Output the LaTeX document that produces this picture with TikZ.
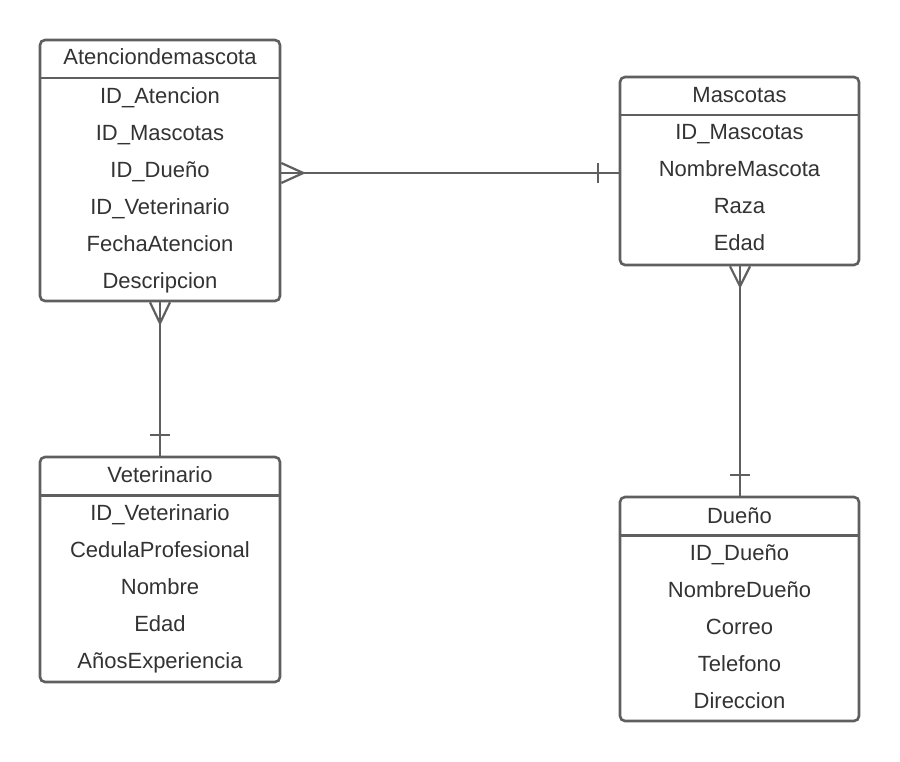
\documentclass[tikz,border=0pt]{standalone}
\usepackage{fontspec}
\setmainfont{Liberation Sans}
\definecolor{boxgray}{HTML}{5F5F5F}
\definecolor{txtgray}{HTML}{333333}
\tikzset{
  tbl/.style={draw=boxgray, line width=2.6pt, rounded corners=5pt, fill=white, inner sep=0pt},
  sepline/.style={draw=boxgray, line width=2.6pt},
  conn/.style={draw=boxgray, line width=2.2pt},
  txt/.style={font=\fontsize{22}{25}\selectfont, text=txtgray, anchor=base, inner sep=0pt}
}
\begin{document}
\begin{tikzpicture}[x=1pt,y=-1pt]
\useasboundingbox (0,0) rectangle (900,762);

% tables
\node[tbl, minimum width=240, minimum height=261] (aten) at (160,170.5) {};
\node[tbl, minimum width=239, minimum height=188] (masc) at (739.5,171) {};
\node[tbl, minimum width=240, minimum height=225] (vet) at (160,569.5) {};
\node[tbl, minimum width=239, minimum height=224] (duen) at (739.5,609) {};

\foreach \t in {aten,masc,vet,duen}
  \draw[sepline] ([yshift=-39.5pt]\t.north west) -- ([yshift=-39.5pt]\t.north east);

% texts
\node[txt] (aten-t) at (160,65) {Atenciondemascota};
\node[txt] (aten-1) at (160,104) {ID\_Atencion};
\node[txt] (aten-2) at (160,141) {ID\_Mascotas};
\node[txt] (aten-3) at (160,178) {ID\_Dueño};
\node[txt] (aten-4) at (160,215) {ID\_Veterinario};
\node[txt] (aten-5) at (160,252) {FechaAtencion};
\node[txt] (aten-6) at (160,289) {Descripcion};

\node[txt] (masc-t) at (739.5,103) {Mascotas};
\node[txt] (masc-1) at (739.5,140) {ID\_Mascotas};
\node[txt] (masc-2) at (739.5,177) {NombreMascota};
\node[txt] (masc-3) at (739.5,214) {Raza};
\node[txt] (masc-4) at (739.5,251) {Edad};

\node[txt] (vet-t) at (160,482) {Veterinario};
\node[txt] (vet-1) at (160,520) {ID\_Veterinario};
\node[txt] (vet-2) at (160,557) {CedulaProfesional};
\node[txt] (vet-3) at (160,594) {Nombre};
\node[txt] (vet-4) at (160,631) {Edad};
\node[txt] (vet-5) at (160,668) {AñosExperiencia};

\node[txt] (duen-t) at (739.5,523) {Dueño};
\node[txt] (duen-1) at (739.5,560) {ID\_Dueño};
\node[txt] (duen-2) at (739.5,597) {NombreDueño};
\node[txt] (duen-3) at (739.5,634) {Correo};
\node[txt] (duen-4) at (739.5,671) {Telefono};
\node[txt] (duen-5) at (739.5,708) {Direccion};

% connector Atenciondemascota -- Mascotas
\coordinate (a1) at ([yshift=-2.5pt]aten.east);
\coordinate (m1) at (a1 -| masc.west);
\draw[conn] (a1) -- (m1);
\draw[conn] ([yshift=10pt]a1) -- ([xshift=22pt]a1) -- ([yshift=-10pt]a1);
\draw[conn] ([xshift=-21pt,yshift=10pt]m1) -- ([xshift=-21pt,yshift=-10pt]m1);

% connector Atenciondemascota -- Veterinario
\coordinate (a2) at (aten.south);
\coordinate (v2) at (vet.north);
\draw[conn] (a2) -- (v2);
\draw[conn] ([xshift=-10pt]a2) -- ([yshift=-21pt]a2) -- ([xshift=10pt]a2);
\draw[conn] ([xshift=-10pt,yshift=21pt]v2) -- ([xshift=10pt,yshift=21pt]v2);

% connector Mascotas -- Dueño
\coordinate (m3) at ([xshift=0.5pt]masc.south);
\coordinate (d3) at ([xshift=0.5pt]duen.north);
\draw[conn] (m3) -- (d3);
\draw[conn] ([xshift=-10pt]m3) -- ([yshift=-20pt]m3) -- ([xshift=10pt]m3);
\draw[conn] ([xshift=-10pt,yshift=21pt]d3) -- ([xshift=10pt,yshift=21pt]d3);
\end{tikzpicture}
\end{document}
